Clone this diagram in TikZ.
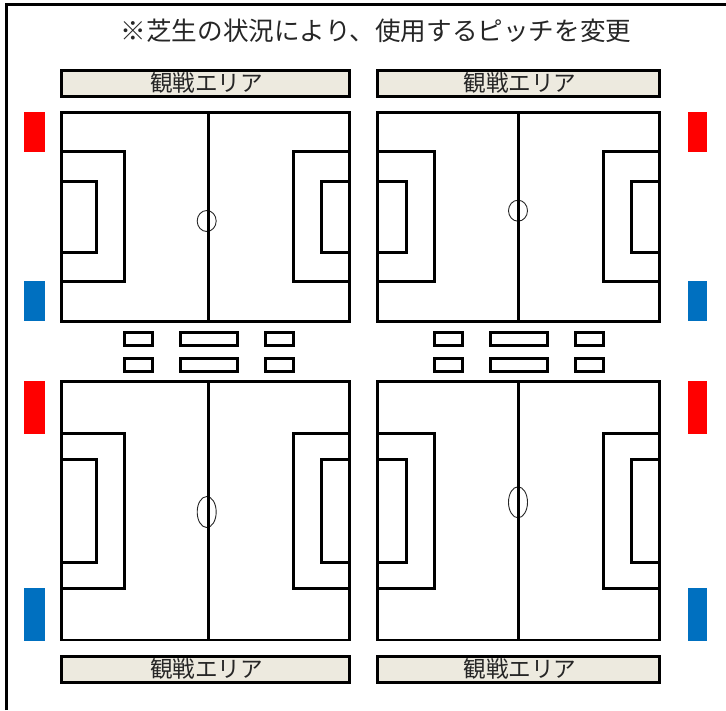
\documentclass[tikz,border=0pt]{standalone}
\usepackage{fontspec}
\newfontfamily\jpfont{Noto Sans CJK JP}
\definecolor{standfill}{HTML}{EDEADF}
\definecolor{teamred}{HTML}{FF0000}
\definecolor{teamblue}{HTML}{0070C0}
\tikzset{
  heavy/.style={draw=black,line width=2.8pt},
  circ/.style={draw=black!85,line width=0.9pt},
  teamred box/.style={fill=teamred,draw=none},
  teamblue box/.style={fill=teamblue,draw=none},
  standbox/.style={heavy,fill=standfill,rectangle,inner sep=0pt,minimum height=26pt},
  standlabel/.style={inner sep=0pt,text=black!85,font=\jpfont\fontsize{22.6}{23}\selectfont},
  titletext/.style={inner sep=0pt,text=black!85,font=\jpfont\fontsize{25.6}{26}\selectfont}
}
% left, right, halfway, top, bottom
\newcommand{\soccerpitch}[5]{%
  \draw[heavy] (#1,#4) rectangle (#2,#5);
  \draw[heavy] (#3,#4) -- (#3,#5);
}
% goal line x, box x, inner box x, box top, inner top, inner bottom, box bottom
\newcommand{\penaltyboxes}[7]{%
  \draw[heavy] (#1,#4) -- (#2,#4) -- (#2,#7) -- (#1,#7);
  \draw[heavy] (#1,#5) -- (#3,#5) -- (#3,#6) -- (#1,#6);
}
\newcommand{\benchrow}[2]{%
  \draw[heavy] (#1+1.5,#2) rectangle (#1+29.5,#2+13);
  \draw[heavy] (#1+57.5,#2) rectangle (#1+114.5,#2+13);
  \draw[heavy] (#1+142.5,#2) rectangle (#1+170.5,#2+13);
}
\begin{document}
\begin{tikzpicture}[x=1pt,y=-1pt]
\useasboundingbox (0,0) rectangle (726,710);
% outer frame
\draw[heavy] (6.5,710) -- (6.5,4.7) -- (726,4.7);
% title
\node[titletext] (title) at (376,31) {※芝生の状況により、使用するピッチを変更};
% stands
\node[standbox,minimum width=288pt] (standTL) at (205.5,83.5) {};
\node[standbox,minimum width=282pt] (standTR) at (518.5,83.5) {};
\node[standbox,minimum width=288pt] (standBL) at (205.5,669.5) {};
\node[standbox,minimum width=282pt] (standBR) at (518.5,669.5) {};
\node[standlabel] (labelTL) at (206.5,83) {観戦エリア};
\node[standlabel] (labelTR) at (520,83) {観戦エリア};
\node[standlabel] (labelBL) at (206.5,669) {観戦エリア};
\node[standlabel] (labelBR) at (520,669) {観戦エリア};
% team markers
\fill[teamred box] (24,112) rectangle (45,152);
\fill[teamblue box] (24,281) rectangle (45,321);
\fill[teamred box] (688,112) rectangle (707,152);
\fill[teamblue box] (688,281) rectangle (707,321);
\fill[teamred box] (24,381) rectangle (45,434);
\fill[teamblue box] (24,588) rectangle (45,641);
\fill[teamred box] (688,381) rectangle (707,434);
\fill[teamblue box] (688,588) rectangle (707,641);
% pitch top-left
\draw[circ] (206.7,221) ellipse [x radius=9.5,y radius=10.5];
\soccerpitch{61.5}{349.5}{208.3}{112.5}{321.5}
\penaltyboxes{61.5}{124.3}{96.3}{151.5}{181.3}{252.3}{281.3}
\penaltyboxes{349.5}{293.7}{321.7}{151.5}{181.3}{252.3}{281.3}
% pitch top-right
\draw[circ] (518,210.7) ellipse [x radius=9.5,y radius=10.5];
\soccerpitch{377.5}{659.5}{518.3}{112.5}{321.5}
\penaltyboxes{377.5}{434.3}{406.3}{151.5}{181.3}{252.3}{281.3}
\penaltyboxes{659.5}{603.7}{631.7}{151.5}{181.3}{252.3}{281.3}
% pitch bottom-left
\draw[circ] (206.7,512) ellipse [x radius=9.5,y radius=15.5];
\soccerpitch{61.5}{349.5}{208.3}{381.5}{640}
\penaltyboxes{61.5}{124.3}{96.7}{433.3}{459.3}{562.3}{588.3}
\penaltyboxes{349.5}{293.7}{321.7}{433.3}{459.3}{562.3}{588.3}
% pitch bottom-right
\draw[circ] (518,502.3) ellipse [x radius=9.5,y radius=15.5];
\soccerpitch{377.5}{659.5}{518.3}{381.5}{640}
\penaltyboxes{377.5}{434.3}{406.3}{433.3}{459.3}{562.3}{588.3}
\penaltyboxes{659.5}{603.7}{631.7}{433.3}{459.3}{562.3}{588.3}
% benches
\benchrow{123}{332.5}
\benchrow{123}{358.5}
\benchrow{433}{332.5}
\benchrow{433}{358.5}
\end{tikzpicture}
\end{document}
